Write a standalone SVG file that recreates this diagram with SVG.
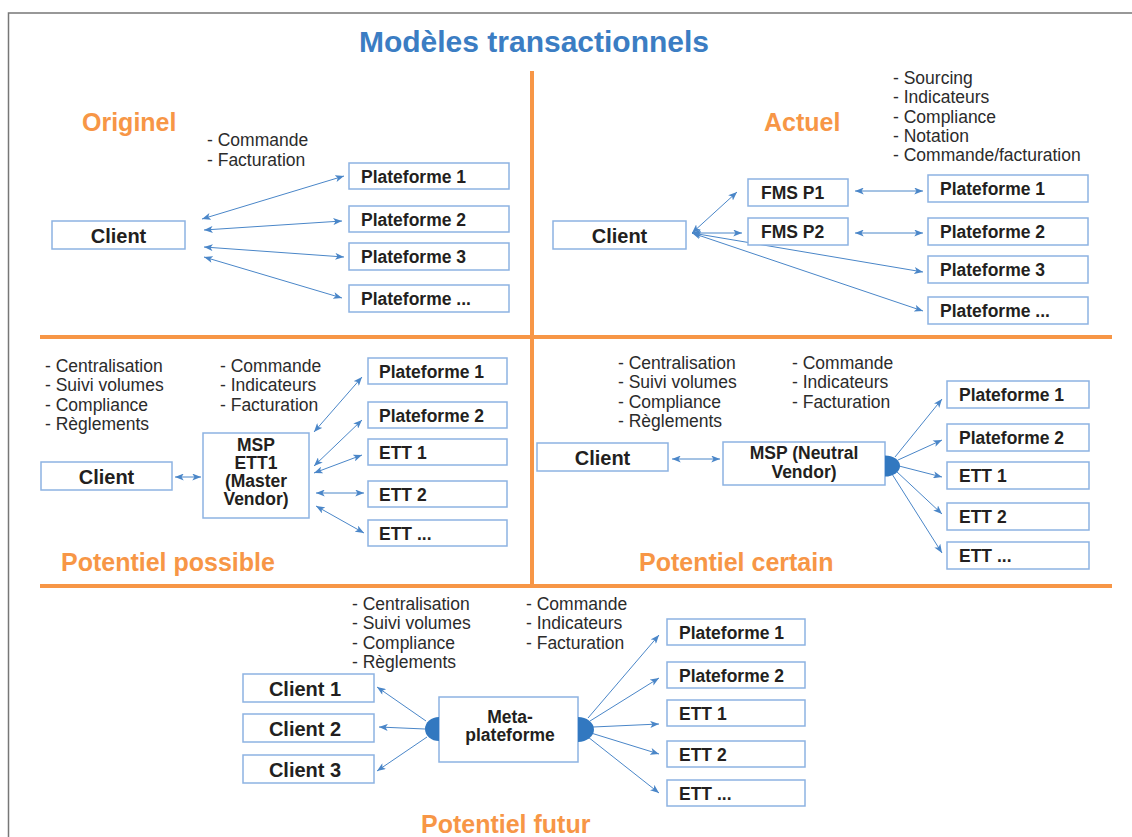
<svg xmlns="http://www.w3.org/2000/svg" width="1132" height="837" viewBox="0 0 1132 837">
<defs>
<style>
.box{fill:#fff;stroke:#8DB3E2;stroke-width:1.5}
.lb{font-family:"Liberation Sans",Arial,sans-serif;font-weight:bold;font-size:17.5px;fill:#231F20}
.cl{font-family:"Liberation Sans",Arial,sans-serif;font-weight:bold;font-size:20px;fill:#231F20;text-anchor:middle}
.mid{text-anchor:middle}
.tx{font-family:"Liberation Sans",Arial,sans-serif;font-size:17.5px;fill:#2b2b2b}
.hd{font-family:"Liberation Sans",Arial,sans-serif;font-weight:bold;font-size:25px;fill:#F79646}
.sep{stroke:#F79646;stroke-width:4;fill:none}
.a1{stroke:#4A86C8;stroke-width:1;fill:none;marker-end:url(#ah)}
.a2{stroke:#4A86C8;stroke-width:1;fill:none;marker-end:url(#ah);marker-start:url(#ah)}
.dot{fill:#3278C0}
</style>
<marker id="ah" viewBox="0 0 10 8" markerWidth="9" markerHeight="7" refX="10" refY="4" orient="auto-start-reverse" markerUnits="userSpaceOnUse">
<path d="M0,0 L10,4 L0,8 L2.5,4 Z" fill="#4A86C8"/>
</marker>
</defs>

<rect x="0" y="0" width="1132" height="837" fill="#fff"/>
<path d="M8.5,837 V13 H1132" stroke="#777" stroke-width="1.5" fill="none"/>

<text x="534" y="52" class="mid" font-family="Liberation Sans, Arial, sans-serif" font-weight="bold" font-size="30" fill="#3B7DC3">Modèles transactionnels</text>

<g id="separators">
<line class="sep" x1="532" y1="71" x2="532" y2="584"/>
<line class="sep" x1="40" y1="337" x2="1112" y2="337"/>
<line class="sep" x1="40" y1="586" x2="1112" y2="586"/>
</g>

<g id="headings">
<text class="hd" x="82" y="131">Originel</text>
<text class="hd" x="764" y="131">Actuel</text>
<text class="hd" x="61" y="571">Potentiel possible</text>
<text class="hd" x="639" y="571">Potentiel certain</text>
<text class="hd" x="421" y="833">Potentiel futur</text>
</g>

<g id="notes">
<text class="tx" x="207" y="146">- Commande</text>
<text class="tx" x="207" y="165.5">- Facturation</text>
<text class="tx" x="893" y="84">- Sourcing</text>
<text class="tx" x="893" y="103.3">- Indicateurs</text>
<text class="tx" x="893" y="122.6">- Compliance</text>
<text class="tx" x="893" y="141.9">- Notation</text>
<text class="tx" x="893" y="161.2">- Commande/facturation</text>
<text class="tx" x="45" y="372">- Centralisation</text>
<text class="tx" x="45" y="391.3">- Suivi volumes</text>
<text class="tx" x="45" y="410.6">- Compliance</text>
<text class="tx" x="45" y="429.9">- Règlements</text>
<text class="tx" x="220" y="372">- Commande</text>
<text class="tx" x="220" y="391.3">- Indicateurs</text>
<text class="tx" x="220" y="410.6">- Facturation</text>
<text class="tx" x="618" y="369">- Centralisation</text>
<text class="tx" x="618" y="388.3">- Suivi volumes</text>
<text class="tx" x="618" y="407.6">- Compliance</text>
<text class="tx" x="618" y="426.9">- Règlements</text>
<text class="tx" x="792" y="369">- Commande</text>
<text class="tx" x="792" y="388.3">- Indicateurs</text>
<text class="tx" x="792" y="407.6">- Facturation</text>
<text class="tx" x="352" y="610">- Centralisation</text>
<text class="tx" x="352" y="629.3">- Suivi volumes</text>
<text class="tx" x="352" y="648.6">- Compliance</text>
<text class="tx" x="352" y="667.9">- Règlements</text>
<text class="tx" x="526" y="610">- Commande</text>
<text class="tx" x="526" y="629.3">- Indicateurs</text>
<text class="tx" x="526" y="648.6">- Facturation</text>
</g>

<g id="connectors">
<line class="a2" x1="202" y1="219" x2="344" y2="176"/>
<line class="a2" x1="204" y1="230" x2="342" y2="221"/>
<line class="a2" x1="204" y1="247" x2="344" y2="257"/>
<line class="a2" x1="204" y1="257" x2="342" y2="298"/>

<line class="a2" x1="692" y1="233" x2="737" y2="192"/>
<line class="a2" x1="692" y1="233" x2="742" y2="233"/>
<line class="a2" x1="692" y1="233" x2="923" y2="272"/>
<line class="a2" x1="692" y1="233" x2="923" y2="311"/>
<line class="a2" x1="855" y1="191" x2="923" y2="191"/>
<line class="a2" x1="855" y1="233" x2="923" y2="233"/>

<line class="a2" x1="175" y1="477" x2="201" y2="477"/>
<line class="a2" x1="314" y1="432" x2="362" y2="377"/>
<line class="a2" x1="314" y1="466" x2="362" y2="420"/>
<line class="a2" x1="314" y1="473" x2="362" y2="455"/>
<line class="a2" x1="316" y1="493" x2="364" y2="493"/>
<line class="a2" x1="316" y1="506" x2="364" y2="533"/>

<line class="a2" x1="672" y1="459" x2="720" y2="459"/>
<line class="a1" x1="895" y1="457" x2="942" y2="399"/>
<line class="a1" x1="898" y1="460" x2="942" y2="440"/>
<line class="a1" x1="899" y1="466" x2="942" y2="477"/>
<line class="a1" x1="896" y1="471" x2="942" y2="514"/>
<line class="a1" x1="892" y1="474" x2="942" y2="553"/>

<line class="a1" x1="426" y1="721" x2="377" y2="687"/>
<line class="a1" x1="425" y1="729" x2="379" y2="727"/>
<line class="a1" x1="427" y1="737" x2="377" y2="771"/>
<line class="a1" x1="588" y1="718" x2="659" y2="635"/>
<line class="a1" x1="590" y1="721" x2="659" y2="678"/>
<line class="a1" x1="593" y1="727" x2="659" y2="724"/>
<line class="a1" x1="591" y1="733" x2="659" y2="754"/>
<line class="a1" x1="588" y1="737" x2="659" y2="793"/>
</g>

<!-- Originel -->
<g id="o-client"><rect class="box" x="52" y="221" width="133" height="28"/><text class="cl" x="118.5" y="243">Client</text></g>
<g id="o-p1"><rect class="box" x="349" y="163" width="160" height="26"/><text class="lb" x="361" y="182.5">Plateforme 1</text></g>
<g id="o-p2"><rect class="box" x="349" y="206" width="160" height="26"/><text class="lb" x="361" y="225.5">Plateforme 2</text></g>
<g id="o-p3"><rect class="box" x="349" y="243" width="160" height="27"/><text class="lb" x="361" y="263">Plateforme 3</text></g>
<g id="o-pn"><rect class="box" x="349" y="285" width="160" height="27"/><text class="lb" x="361" y="305">Plateforme ...</text></g>

<!-- Actuel -->
<g id="a-client"><rect class="box" x="553" y="221" width="133" height="28"/><text class="cl" x="619.5" y="243">Client</text></g>
<g id="a-fms1"><rect class="box" x="748" y="179" width="100" height="27"/><text class="lb" x="761" y="199">FMS P1</text></g>
<g id="a-fms2"><rect class="box" x="748" y="218" width="100" height="27"/><text class="lb" x="761" y="238">FMS P2</text></g>
<g id="a-p1"><rect class="box" x="928" y="175" width="160" height="27"/><text class="lb" x="940" y="195">Plateforme 1</text></g>
<g id="a-p2"><rect class="box" x="928" y="218" width="160" height="27"/><text class="lb" x="940" y="238">Plateforme 2</text></g>
<g id="a-p3"><rect class="box" x="928" y="256" width="160" height="27"/><text class="lb" x="940" y="276">Plateforme 3</text></g>
<g id="a-pn"><rect class="box" x="928" y="297" width="160" height="27"/><text class="lb" x="940" y="317">Plateforme ...</text></g>

<!-- Potentiel possible -->
<g id="pp-client"><rect class="box" x="41" y="462" width="131" height="28"/><text class="cl" x="106.5" y="484">Client</text></g>
<g id="pp-msp"><rect class="box" x="203" y="433" width="106" height="85"/>
<text class="lb mid" x="256" y="451">MSP</text>
<text class="lb mid" x="256" y="469">ETT1</text>
<text class="lb mid" x="256" y="487">(Master</text>
<text class="lb mid" x="256" y="505">Vendor)</text></g>
<g id="pp-p1"><rect class="box" x="368" y="358" width="139" height="26"/><text class="lb" x="379" y="377.5">Plateforme 1</text></g>
<g id="pp-p2"><rect class="box" x="368" y="402" width="139" height="26"/><text class="lb" x="379" y="421.5">Plateforme 2</text></g>
<g id="pp-e1"><rect class="box" x="368" y="439" width="139" height="26"/><text class="lb" x="379" y="458.5">ETT 1</text></g>
<g id="pp-e2"><rect class="box" x="368" y="481" width="139" height="26"/><text class="lb" x="379" y="500.5">ETT 2</text></g>
<g id="pp-en"><rect class="box" x="368" y="520" width="139" height="26"/><text class="lb" x="379" y="539.5">ETT ...</text></g>

<!-- Potentiel certain -->
<g id="pc-client"><rect class="box" x="537" y="443" width="131" height="28"/><text class="cl" x="602.5" y="465">Client</text></g>
<g id="pc-msp"><rect class="box" x="723" y="442" width="162" height="43"/>
<text class="lb mid" x="804" y="459">MSP (Neutral</text>
<text class="lb mid" x="804" y="478">Vendor)</text>
<path class="dot" d="M885,455.5 A15,10.5 0 0 1 885,476.5 Z"/></g>
<g id="pc-p1"><rect class="box" x="947" y="381" width="142" height="27"/><text class="lb" x="959" y="401">Plateforme 1</text></g>
<g id="pc-p2"><rect class="box" x="947" y="424" width="142" height="27"/><text class="lb" x="959" y="444">Plateforme 2</text></g>
<g id="pc-e1"><rect class="box" x="947" y="462" width="142" height="27"/><text class="lb" x="959" y="482">ETT 1</text></g>
<g id="pc-e2"><rect class="box" x="947" y="503" width="142" height="27"/><text class="lb" x="959" y="523">ETT 2</text></g>
<g id="pc-en"><rect class="box" x="947" y="542" width="142" height="27"/><text class="lb" x="959" y="562">ETT ...</text></g>

<!-- Potentiel futur -->
<g id="pf-c1"><rect class="box" x="243" y="674" width="131" height="28"/><text class="cl" x="305" y="696">Client 1</text></g>
<g id="pf-c2"><rect class="box" x="243" y="714" width="131" height="28"/><text class="cl" x="305" y="736">Client 2</text></g>
<g id="pf-c3"><rect class="box" x="243" y="755" width="131" height="28"/><text class="cl" x="305" y="777">Client 3</text></g>
<g id="pf-meta"><rect class="box" x="439" y="697" width="139" height="65"/>
<text class="lb mid" x="510" y="723">Meta-</text>
<text class="lb mid" x="510" y="741">plateforme</text>
<path class="dot" d="M439,717 A14,12 0 0 0 439,741 Z"/>
<path class="dot" d="M578,717 A16,12.5 0 0 1 578,742 Z"/></g>
<g id="pf-p1"><rect class="box" x="667" y="619" width="138" height="26"/><text class="lb" x="679" y="638.5">Plateforme 1</text></g>
<g id="pf-p2"><rect class="box" x="667" y="662" width="138" height="26"/><text class="lb" x="679" y="681.5">Plateforme 2</text></g>
<g id="pf-e1"><rect class="box" x="667" y="700" width="138" height="26"/><text class="lb" x="679" y="719.5">ETT 1</text></g>
<g id="pf-e2"><rect class="box" x="667" y="741" width="138" height="26"/><text class="lb" x="679" y="760.5">ETT 2</text></g>
<g id="pf-en"><rect class="box" x="667" y="780" width="138" height="26"/><text class="lb" x="679" y="799.5">ETT ...</text></g>
</svg>
